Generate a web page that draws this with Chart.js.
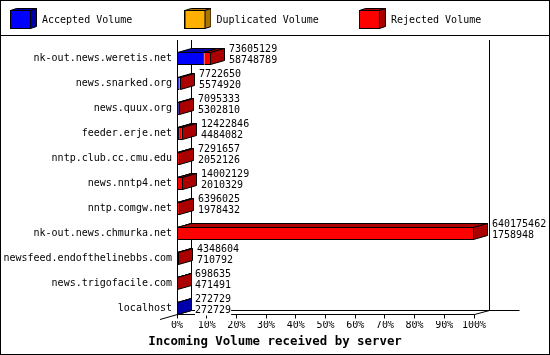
<!DOCTYPE html>
<html><head><meta charset="utf-8">
<script src="https://cdn.jsdelivr.net/npm/chart.js@4.4.1/dist/chart.umd.min.js"></script>
<style>html,body{margin:0;padding:0;background:#fff;overflow:hidden}canvas{display:block}</style>
</head><body>
<canvas id="c" width="550" height="355"></canvas>
<script>
const categories = ['nk-out.news.weretis.net','news.snarked.org','news.quux.org','feeder.erje.net','nntp.club.cc.cmu.edu','news.nntp4.net','nntp.comgw.net','nk-out.news.chmurka.net','newsfeed.endofthelinebbs.com','news.trigofacile.com','localhost'];
const offeredVolume = [73605129,7722650,7095333,12422846,7291657,14002129,6396025,640175462,4348604,698635,272729];
const acceptedVolume = [58748789,5574920,5302810,4484082,2052126,2010329,1978432,1758948,710792,471491,272729];
const duplicatedVolume = [0,0,0,0,0,0,0,0,0,0,0];
const rejectedVolume = [14856340,2147730,1792523,7938764,5239531,11991800,4417593,638416514,3637812,227144,0];
const seriesNames = ['Accepted Volume','Duplicated Volume','Rejected Volume'];
const seriesColors = ['#0000ff','#ffb000','#ff0000'];
const seriesShades = ['#0000aa','#aa7500','#aa0000'];
const tickLabels = ['0%','10%','20%','30%','40%','50%','60%','70%','80%','90%','100%'];
const axisTitle = 'Incoming Volume received by server';

const FONT = "'DejaVu Sans Mono', monospace";
Chart.defaults.font.family = FONT;
Chart.defaults.color = '#000';
const maxVol = Math.max(...offeredVolume);
const DX = 14, DY = -4;
const TITLE_SIZE = 12.4, TITLE_PAD_BOTTOM = 6;

function poly(g, pts, fill){
  g.beginPath(); g.moveTo(pts[0][0], pts[0][1]);
  for (let k=1;k<pts.length;k++) g.lineTo(pts[k][0], pts[k][1]);
  g.closePath(); g.fillStyle = fill; g.fill(); g.stroke();
}
function makeIcon(face, shade){
  const c = document.createElement('canvas'); c.width = 27; c.height = 25;
  const g = c.getContext('2d'); g.lineWidth = 1; g.strokeStyle = '#000';
  poly(g, [[0.5,2.5],[6.5,0.5],[26.5,0.5],[20.5,2.5]], shade);
  poly(g, [[20.5,2.5],[26.5,0.5],[26.5,18.5],[20.5,20.5]], shade);
  g.fillStyle = face; g.fillRect(0.5,2.5,20,18); g.strokeRect(0.5,2.5,20,18);
  return c;
}
const legendIcons = seriesColors.map((c,i)=>makeIcon(c, seriesShades[i]));

function line(g, x1, y1, x2, y2){ g.beginPath(); g.moveTo(x1,y1); g.lineTo(x2,y2); g.stroke(); }

const frame3d = {
  id: 'frame3d',
  beforeDraw(chart){
    const g = chart.ctx; g.save(); g.fillStyle = '#fff'; g.fillRect(0,0,chart.width,chart.height); g.restore();
  },
  beforeDatasetsDraw(chart){
    const g = chart.ctx, a = chart.chartArea, xs = chart.scales.x;
    const L = Math.round(a.left) + 0.5;
    const wallTop = a.top - 6;
    const frontY = a.bottom - 6.5;
    const floorY = frontY + DY;
    const Rf = Math.round(a.right) + 0.5;
    const Rw = Rf + 15;
    g.save(); g.strokeStyle = '#000'; g.lineWidth = 1;
    line(g, L + DX, wallTop, L + DX, floorY);
    line(g, Rw, wallTop, Rw, floorY);
    line(g, L + DX, floorY, Rw + 30, floorY);
    line(g, L - 17.5, frontY + 17.5 * 4 / 14, L + DX, floorY);
    line(g, L, frontY, Rf, frontY);
    line(g, Rf, frontY, Rw, floorY);
    xs.ticks.forEach(t => { const px = Math.floor(xs.getPixelForValue(t.value)) + 0.5; line(g, px, frontY, px, frontY + 4); });
    g.restore();
  },
  afterDatasetsDraw(chart){
    const g = chart.ctx, a = chart.chartArea;
    const n = chart.data.labels.length;
    g.save(); g.strokeStyle = '#000'; g.lineWidth = 1; g.lineJoin = 'miter';
    for (let i = 0; i < n; i++){
      const segs = [];
      chart.data.datasets.forEach((ds, di) => {
        if (!chart.isDatasetVisible(di)) return;
        const el = chart.getDatasetMeta(di).data[i]; if (!el) return;
        const p = el.getProps(['x','y','base','height'], true);
        const l = Math.min(p.x, p.base), r = Math.max(p.x, p.base);
        if (r - l < 0.05) return;
        segs.push({l, r, y: p.y, h: p.height, shade: seriesShades[di]});
      });
      if (!segs.length) continue;
      let prevR = null, last = null, yc = segs[0].y;
      segs.forEach(s => {
        const T = Math.round(s.y - s.h/2) + 0.5, B = Math.round(s.y + s.h/2) - 0.5;
        const Lx = prevR === null ? Math.round(s.l) + 0.5 : prevR;
        const Rx = Math.max(Lx, Math.round(s.r) - 0.5);
        poly(g, [[Lx,T],[Rx,T],[Rx+DX,T+DY],[Lx+DX,T+DY]], s.shade);
        prevR = Rx; last = {T, B, Rx, shade: s.shade, r: s.r};
      });
      poly(g, [[last.Rx,last.T],[last.Rx+DX,last.T+DY],[last.Rx+DX,last.B+DY],[last.Rx,last.B]], last.shade);
      const lx = Math.round(last.r) + 18;
      g.font = '10px ' + FONT; g.textBaseline = 'middle'; g.textAlign = 'left';
      [[String(offeredVolume[i]), yc - 9], [String(acceptedVolume[i]), yc + 2]].forEach(([t, ty]) => {
        const w = g.measureText(t).width;
        g.fillStyle = '#fff'; g.fillRect(lx, ty - 5, w, 10);
        g.fillStyle = '#000'; g.fillText(t, lx, ty);
      });
    }
    const L = Math.round(a.left) + 0.5;
    line(g, L, a.top - 6, L, a.bottom - 6.5);
    g.restore();
  },
  afterDraw(chart){
    const g = chart.ctx; g.save(); g.strokeStyle = '#000'; g.lineWidth = 1;
    g.strokeRect(0.5, 0.5, chart.width - 1, chart.height - 1);
    line(g, 0, 35.5, chart.width, 35.5);
    g.restore();
  }
};

const volumes = [acceptedVolume, duplicatedVolume, rejectedVolume];
const titleBoxHeight = TITLE_SIZE * 1.2 + TITLE_PAD_BOTTOM;

new Chart(document.getElementById('c'), {
  type: 'bar',
  data: {
    labels: categories,
    datasets: volumes.map((d, i) => ({
      label: seriesNames[i], data: d,
      backgroundColor: seriesColors[i], borderColor: '#000', borderWidth: 1,
      borderSkipped: 'start', barThickness: 13, inflateAmount: 0,
      xAxisID: 'x', yAxisID: 'y'
    }))
  },
  options: {
    indexAxis: 'y', responsive: false, devicePixelRatio: 1, animation: false,
    layout: { padding: { top: 5.5, left: 0, right: 0, bottom: 0 } },
    events: [],
    scales: {
      x: {
        type: 'linear', position: 'bottom', stacked: true, min: 0, max: maxVol,
        grid: { display: false, drawTicks: false }, border: { display: false },
        afterBuildTicks: s => { s.ticks = tickLabels.map((t, k) => ({ value: maxVol * k / (tickLabels.length - 1) })); },
        afterFit: s => { s.height = 34 - titleBoxHeight; },
        ticks: { autoSkip: false, maxRotation: 0, minRotation: 0, padding: -2, color: '#000', font: { size: 10 },
                 callback: (v, k) => tickLabels[k] }
      },
      y: {
        type: 'category', position: 'left', stacked: true,
        grid: { display: false, drawTicks: false }, border: { display: false },
        afterFit: s => { s.width = 177; },
        ticks: { padding: 5, color: '#000', font: { size: 10 }, autoSkip: false }
      },
      xTop: {
        type: 'linear', position: 'top', display: true,
        grid: { display: false, drawTicks: false }, border: { display: false }, ticks: { display: false },
        afterFit: s => { s.height = 10.5; }
      },
      yRight: {
        type: 'linear', position: 'right', display: true,
        grid: { display: false, drawTicks: false }, border: { display: false }, ticks: { display: false },
        afterFit: s => { s.width = 76; }
      }
    },
    plugins: {
      tooltip: { enabled: false },
      title: {
        display: true, position: 'bottom', text: axisTitle, color: '#000', align: 'center',
        font: { size: TITLE_SIZE, weight: 'bold', lineHeight: 1.2 }, padding: { top: 0, bottom: TITLE_PAD_BOTTOM }
      },
      legend: {
        display: true, position: 'top', align: 'start',
        labels: {
          usePointStyle: true, pointStyleWidth: 27, padding: 10, color: '#000', font: { size: 10 },
          generateLabels: chart => chart.data.datasets.map((ds, i) => ({
            text: ds.label.padEnd(22, ' '), pointStyle: legendIcons[i], datasetIndex: i,
            hidden: !chart.isDatasetVisible(i), fontColor: '#000', lineWidth: 0,
            strokeStyle: 'rgba(0,0,0,0)', fillStyle: ds.backgroundColor
          }))
        }
      }
    }
  },
  plugins: [frame3d]
});
</script>
</body></html>
